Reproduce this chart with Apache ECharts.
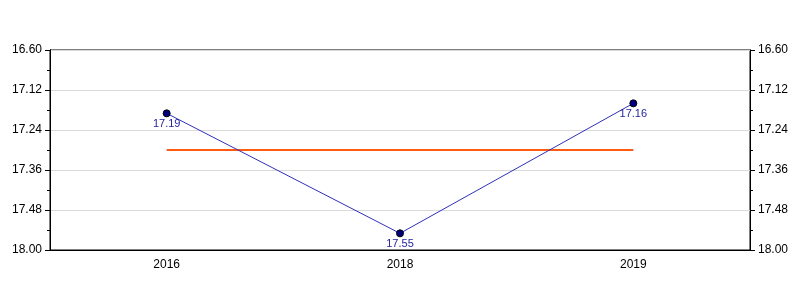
<!DOCTYPE html>
<html><head><meta charset="utf-8">
<script src="https://cdn.jsdelivr.net/npm/echarts@6/dist/echarts.min.js"></script>
<style>html,body{margin:0;padding:0;background:#fff}#c{width:800px;height:300px}</style>
</head><body><div id="c"></div>
<script>
const categories = ['2016', '2018', '2019'];
const values = [17.19, 17.55, 17.16];
const averageLine = [17.30, 17.30, 17.30];
const majorTicks = [17.00, 17.12, 17.24, 17.36, 17.48, 17.60];
const minorTicks = [17.06, 17.18, 17.30, 17.42, 17.54];
const tickLabels = {'17.00': '16.60', '17.12': '17.12', '17.24': '17.24', '17.36': '17.36', '17.48': '17.48', '17.60': '18.00'};

const font = 'Liberation Sans, Arial, sans-serif';
function fmt(v){ const k = Number(v).toFixed(2); return tickLabels[k] !== undefined ? tickLabels[k] : k; }

function yAx(pos, major){
  return {
    type: 'value', position: pos, inverse: true, min: 17.00, max: 17.60,
    axisLine: {show: true, lineStyle: {color: '#000', width: 1}},
    axisTick: {show: true, inside: false, length: major ? 5 : 3, customValues: major ? majorTicks : minorTicks, lineStyle: {color: '#000'}},
    axisLabel: {show: major, customValues: majorTicks, formatter: fmt, color: '#000', fontSize: 12, fontFamily: font, margin: 8},
    splitLine: {show: major && pos === 'left', lineStyle: {color: '#d9d9d9', width: 1}}
  };
}

const chart = echarts.init(document.getElementById('c'), null, {renderer: 'canvas'});
chart.setOption({
  animation: false,
  backgroundColor: '#fff',
  grid: {left: 50, right: 50, top: 50, bottom: 50, show: true, borderColor: '#000', borderWidth: 1, backgroundColor: 'transparent'},
  xAxis: {
    type: 'category', data: categories, boundaryGap: true,
    axisLine: {lineStyle: {color: '#000'}},
    axisTick: {alignWithLabel: true, length: 5, lineStyle: {color: '#000'}},
    axisLabel: {color: '#000', fontSize: 12, fontFamily: font, margin: 9},
    splitLine: {show: false}
  },
  yAxis: [yAx('left', true), yAx('left', false), yAx('right', true), yAx('right', false)],
  series: [
    {
      type: 'line', data: averageLine, yAxisIndex: 0, symbol: 'none',
      lineStyle: {color: '#ff5a14', width: 2}, z: 2, silent: true
    },
    {
      type: 'line', data: values, yAxisIndex: 0,
      symbol: 'circle', symbolSize: 7,
      itemStyle: {color: '#000080', borderColor: '#000', borderWidth: 1},
      lineStyle: {color: '#3030b8', width: 1},
      label: {show: true, position: 'bottom', distance: 1, color: '#2424a0', fontSize: 11, fontFamily: font, formatter: p => p.value.toFixed(2)},
      z: 3
    }
  ]
});
</script></body></html>
